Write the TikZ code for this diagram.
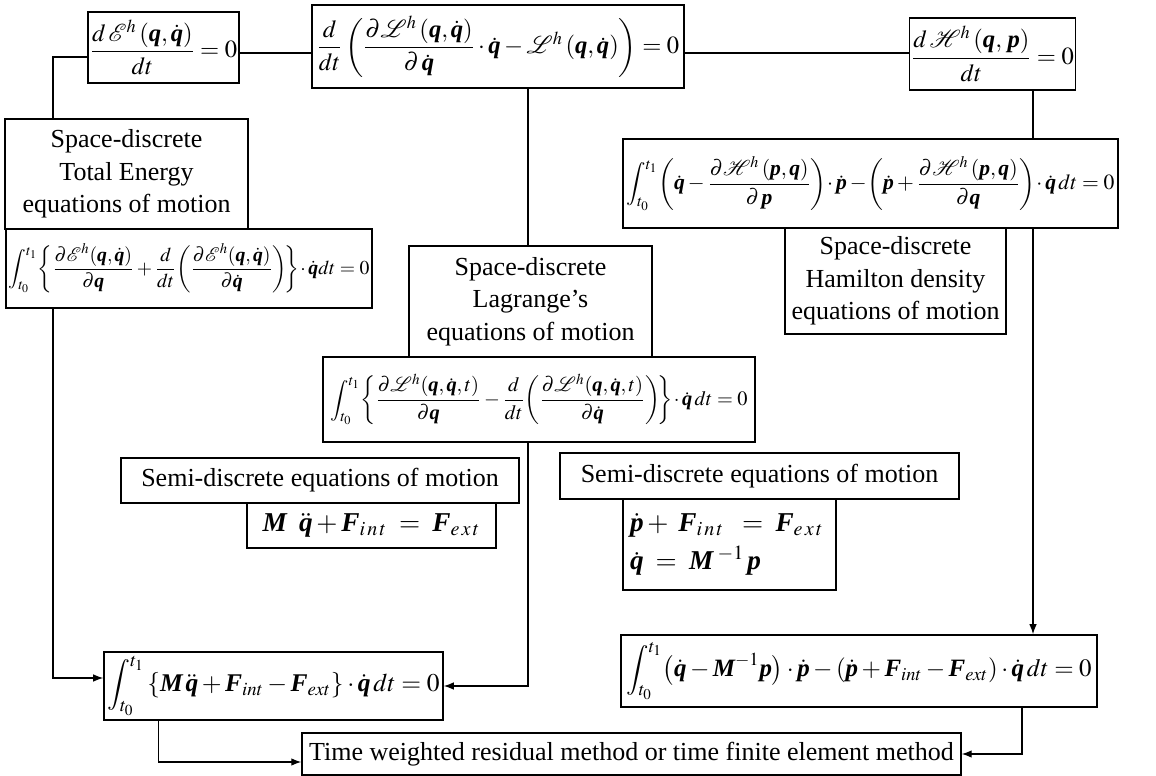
\documentclass[tikz,border=0pt]{standalone}
\usepackage{amsmath}
\usepackage{mathptmx}
\usepackage{fontspec}
\setmainfont{Liberation Serif}
\usetikzlibrary{arrows.meta}
\newcommand{\bv}[1]{\text{\bfseries\itshape #1}}
\newcommand{\txtsize}{\fontsize{14.8}{18.5}\selectfont}
\newcommand{\eqsize}{\fontsize{14}{17}\selectfont}
\newcommand{\intsize}{\fontsize{11.6}{14}\selectfont}
\begin{document}
\begin{tikzpicture}[x=0.02cm, y=-0.02cm,
	box/.style = {draw, line width=0.9pt, inner sep=1pt, font=\eqsize},
	lbl/.style = {box, align=center, font=\txtsize},
	arr/.style = {line width=0.7pt, -{Latex[length=2mm, width=1.5mm]}},
	wire/.style = {line width=0.7pt}]
		\useasboundingbox (0,0) rectangle (1156,776);
		% top row
		\node [box, minimum width=2.94cm, minimum height=1.42cm] (ebox) at (163.5,47.5)
			{$\dfrac{d\,\mathcal{E}^{h}\left(\bv{q},\dot{\bv{q}}\right)}{dt}=0$};
		\node [box, minimum width=7.44cm, minimum height=1.66cm] (lbox) at (498,46.5)
			{$\dfrac{d}{dt}\left(\dfrac{\partial\mathcal{L}^{h}\left(\bv{q},\dot{\bv{q}}\right)}{\partial\,\dot{\bv{q}}}\cdot\dot{\bv{q}}-\mathcal{L}^{h}\left(\bv{q},\dot{\bv{q}}\right)\right)=0$};
		\node [box, minimum width=3.02cm, minimum height=1.44cm] (hbox) at (992.5,54)
			{$\dfrac{d\,\mathcal{H}^{h}\left(\bv{q},\,\bv{p}\right)}{dt}=0$};
		% total energy branch
		\node [lbl, minimum width=4.86cm, minimum height=2.2cm] (etext) at (126.5,174)
			{Space-discrete\\Total Energy\\equations of motion};
		\node [box, font=\fontsize{11.2}{14}\selectfont, minimum width=7.32cm, minimum height=1.58cm] (eint) at (189,268.5)
			{$\displaystyle\int_{t_0}^{t_1}\!\left\{\frac{\partial\mathcal{E}^{h}(\bv{q},\dot{\bv{q}})}{\partial\bv{q}}+\frac{d}{dt}\!\left(\frac{\partial\mathcal{E}^{h}(\bv{q},\dot{\bv{q}})}{\partial\dot{\bv{q}}}\right)\!\right\}\!\cdot\dot{\bv{q}}dt=0$};
		% hamilton branch
		\node [box, font=\fontsize{12.3}{14}\selectfont, minimum width=9.9cm, minimum height=1.78cm] (hint) at (870.5,183.5)
			{$\displaystyle\int_{t_0}^{t_1}\!\left(\dot{\bv{q}}-\frac{\partial\mathcal{H}^{h}\left(\bv{p},\bv{q}\right)}{\partial\,\bv{p}}\right)\!\cdot\dot{\bv{p}}-\!\left(\dot{\bv{p}}+\frac{\partial\mathcal{H}^{h}\left(\bv{p},\bv{q}\right)}{\partial\bv{q}}\right)\!\cdot\dot{\bv{q}}\,dt=0$};
		\node [lbl, minimum width=4.42cm, minimum height=2.12cm] (htext) at (895.5,281)
			{Space-discrete\\Hamilton density\\equations of motion};
		% lagrange branch
		\node [lbl, minimum width=4.86cm, minimum height=2.22cm] (latext) at (530.5,301.5)
			{Space-discrete\\Lagrange's\\equations of motion};
		\node [box, font=\intsize, minimum width=8.64cm, minimum height=1.7cm] (laint) at (539,399.5)
			{$\displaystyle\int_{t_0}^{t_1}\!\left\{\frac{\partial\mathcal{L}^{h}(\bv{q},\dot{\bv{q}},t)}{\partial\bv{q}}-\frac{d}{dt}\!\left(\frac{\partial\mathcal{L}^{h}(\bv{q},\dot{\bv{q}},t)}{\partial\dot{\bv{q}}}\right)\!\right\}\!\cdot\dot{\bv{q}}\,dt=0$};
		% semi-discrete forms
		\node [lbl, minimum width=7.96cm, minimum height=0.9cm] (sdleft) at (320,480.5)
			{Semi-discrete equations of motion};
		\node [box, font=\fontsize{15.5}{18}\selectfont, minimum width=4.98cm, minimum height=0.9cm] (mq) at (371.5,525.5)
			{$\bv{M}\;\;\ddot{\bv{q}}+\bv{F}_{i\,n\,t}\;=\;\bv{F}_{e\,x\,t}$};
		\node [lbl, minimum width=7.98cm, minimum height=0.92cm] (sdright) at (759.5,476)
			{Semi-discrete equations of motion};
		\node [box, font=\fontsize{15.5}{18}\selectfont, align=left, inner xsep=4pt, text width=3.98cm, minimum height=1.82cm] (pq) at (729.5,544.5)
			{$\dot{\bv{p}}+\;\bv{F}_{i\,n\,t}\;\;=\;\bv{F}_{e\,x\,t}$\\[4pt]$\dot{\bv{q}}\;=\;\bv{M}^{\;-1}\,\bv{p}$};
		% bottom row
		\node [box, font=\fontsize{14.5}{17}\selectfont, minimum width=6.78cm, minimum height=1.36cm] (bleft) at (273.5,686)
			{$\displaystyle\int_{t_0}^{t_1}\left\{\bv{M}\,\ddot{\bv{q}}+\bv{F}_{int}-\bv{F}_{ext}\right\}\cdot\dot{\bv{q}}\,dt=0$};
		\node [box, font=\fontsize{14.2}{17}\selectfont, minimum width=9.52cm, minimum height=1.44cm] (bright) at (859,671)
			{$\displaystyle\int_{t_0}^{t_1}\!\left(\dot{\bv{q}}-\bv{M}^{-1}\bv{p}\right)\cdot\dot{\bv{p}}-\left(\dot{\bv{p}}+\bv{F}_{int}-\bv{F}_{ext}\right)\cdot\dot{\bv{q}}\,dt=0$};
		\node [lbl, minimum width=13.18cm, minimum height=0.84cm] (final) at (631.5,754)
			{Time weighted residual method or time finite element method};
		% connectors
		\coordinate (top) at (0,53);
		\coordinate (lx) at (53,57);
		\coordinate (mx) at (528,0);
		\coordinate (rx) at (1033,0);
		\draw [wire] (ebox.east |- top) -- (lbox.west |- top);
		\draw [wire] (lbox.east |- top) -- (hbox.west |- top);
		\draw [wire] (ebox.west |- lx) -- (lx) -- (lx |- etext.north);
		\draw [arr] (lx |- eint.south) |- ([yshift=0.16cm]bleft.west);
		\draw [wire] (mx |- lbox.south) -- (mx |- latext.north);
		\draw [arr] (mx |- laint.south) |- (bleft.east);
		\draw [wire] (rx |- hbox.south) -- (rx |- hint.north);
		\draw [arr] (rx |- hint.south) -- (rx |- bright.north);
		\draw [arr] ([xshift=-0.22cm]rx |- bright.south) |- (final.east);
		\draw [arr] ([xshift=-2.3cm]bleft.south) |- ([yshift=-0.16cm]final.west);
	\end{tikzpicture}
\end{document}
